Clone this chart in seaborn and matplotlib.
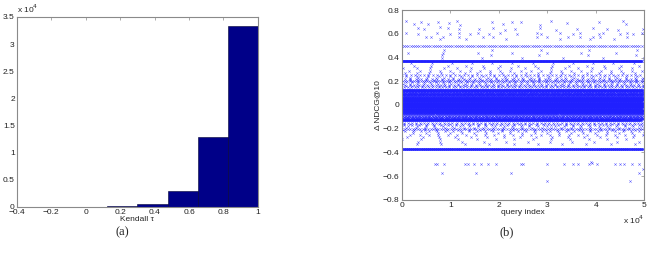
import numpy as np
import pandas as pd
import matplotlib
matplotlib.use("Agg")
import matplotlib.pyplot as plt
import seaborn as sns

# (a) histogram of Kendall tau (8 bins from -0.4 to 1)
bin_edges = [-0.4, -0.225, -0.05, 0.125, 0.3, 0.475, 0.65, 0.825, 1.0]
bin_counts = [0, 0, 30, 120, 550, 3000, 12900, 33300]

# (b) dense bands of delta NDCG@10: level and number of queries on it
band_y = [0.50, 0.37, 0.13, -0.13, -0.37,
          0.12, 0.11, 0.10, 0.09, 0.08, 0.07, 0.06, 0.05, 0.04, 0.03, 0.02, 0.01, 0.0,
          -0.01, -0.02, -0.03, -0.04, -0.05, -0.06, -0.07, -0.08, -0.09, -0.10, -0.11, -0.12,
          0.15, 0.16, 0.17, 0.18, 0.19, 0.20, 0.21, 0.22, 0.23, 0.24, 0.25, 0.27, 0.29, 0.31, 0.33, 0.35,
          -0.15, -0.16, -0.17, -0.18, -0.19, -0.20, -0.21, -0.22, -0.24, -0.25, -0.27, -0.29, -0.31, -0.33,
          0.40, 0.42, 0.44, 0.46]
band_n = [110, 800, 700, 650, 600,
          300, 160, 220, 330, 420, 380, 480, 560, 450, 620, 560, 700, 800,
          700, 560, 620, 450, 500, 380, 330, 240, 170, 150, 200, 260,
          70, 45, 55, 35, 40, 110, 30, 45, 28, 22, 55, 20, 24, 18, 14, 12,
          60, 42, 33, 28, 25, 95, 22, 30, 20, 26, 15, 13, 11, 10,
          6, 5, 7, 5]

# (b) sparse outliers (query index in 1e4, delta NDCG@10)
sparse_x = [0.09, 0.25, 0.40, 0.55, 0.75, 0.78, 0.97, 1.14, 1.20, 1.87, 2.09, 2.28, 2.47, 2.85, 3.07, 3.40, 4.07, 4.57, 4.62,
            0.33, 0.46, 0.95, 1.19, 1.60, 1.88, 2.12, 2.33, 2.85, 3.19, 3.62, 3.95, 4.23, 4.47, 4.98,
            0.09, 0.33, 0.73, 0.99, 1.19, 1.40, 1.57, 1.81, 2.02, 2.37, 2.78, 2.88, 3.26, 3.54, 3.68, 4.06, 4.16, 4.50, 4.64, 4.78, 4.95,
            0.50, 0.60, 0.78, 0.85, 1.19, 1.33, 1.68, 1.88, 2.16, 2.78, 2.99, 3.26, 3.43, 3.68, 3.88, 3.95, 4.09, 4.37, 4.64,
            0.68, 0.73, 0.87, 1.30, 1.37, 1.50, 1.64, 1.78, 1.95, 2.45, 2.50, 2.99, 3.34, 3.54, 3.64, 3.87, 4.02, 4.40, 4.50, 4.59, 4.76, 4.90,
            0.83, 1.53, 2.25, 4.89, 3.90, 3.92, 2.99, 4.70, 4.98]
sparse_y = [0.71, 0.68, 0.70, 0.68, 0.70, 0.66, 0.69, 0.71, 0.67, 0.70, 0.68, 0.70, 0.70, 0.67, 0.71, 0.69, 0.70, 0.71, 0.68,
            0.65, 0.64, 0.65, 0.64, 0.64, 0.65, 0.63, 0.64, 0.65, 0.63, 0.64, 0.65, 0.64, 0.63, 0.64,
            0.61, 0.60, 0.61, 0.60, 0.61, 0.60, 0.61, 0.60, 0.61, 0.60, 0.61, 0.60, 0.61, 0.60, 0.61, 0.60, 0.61, 0.60, 0.61, 0.60, 0.61,
            0.57, 0.57, 0.56, 0.57, 0.57, 0.56, 0.57, 0.57, 0.56, 0.57, 0.57, 0.56, 0.57, 0.57, 0.56, 0.57, 0.57, 0.56, 0.57,
            -0.50, -0.50, -0.50, -0.50, -0.50, -0.50, -0.50, -0.50, -0.50, -0.50, -0.50, -0.50, -0.50, -0.50, -0.50, -0.50, -0.50, -0.50, -0.50, -0.50, -0.50, -0.50,
            -0.57, -0.57, -0.57, -0.57, -0.48, -0.49, -0.64, -0.64, -0.54]

sns.set_style("white")
plt.rcParams['font.family'] = ['Liberation Sans', 'DejaVu Sans']
plt.rcParams['font.size'] = 6

fig = plt.figure(figsize=(6.48, 2.57), dpi=100)
ax1 = fig.add_axes([0.026, 0.195, 0.372, 0.739])
ax2 = fig.add_axes([0.620, 0.222, 0.374, 0.739])

frame = '#8a8a8a'

# --- (a) histogram
centers = [(a + b) / 2 for a, b in zip(bin_edges[:-1], bin_edges[1:])]
sns.histplot(x=centers, weights=bin_counts, bins=bin_edges, ax=ax1,
             color='#000088', edgecolor='#000033', linewidth=0.4, alpha=1)
ax1.set_xlim(-0.4, 1.0)
ax1.set_ylim(0, 35000)
ax1.set_xticks(np.arange(-0.4, 1.01, 0.2))
ax1.set_xticklabels(['\u22120.4', '\u22120.2', '0', '0.2', '0.4', '0.6', '0.8', '1'])
ax1.set_yticks(np.arange(0, 35001, 5000))
ax1.set_yticklabels(['0', '0.5', '1', '1.5', '2', '2.5', '3', '3.5'])
ax1.set_xlabel('Kendall \u03c4', labelpad=0)
ax1.set_ylabel('')
ax1.text(0.0, 1.01, 'x 10$^4$', transform=ax1.transAxes, fontsize=6, va='bottom')

# --- (b) scatter
xs, ys = [], []
for i, (lvl, n) in enumerate(zip(band_y, band_n)):
    step = max(50000 // n, 1)
    idx = np.arange((i * 137) % step, 50000, step)[:n]
    xs.extend(idx)
    ys.extend([lvl] * len(idx))
xs.extend([v * 1e4 for v in sparse_x])
ys.extend(sparse_y)
df = pd.DataFrame({'query': xs, 'delta': ys})
sns.scatterplot(data=df, x='query', y='delta', ax=ax2, marker='x', s=3,
                color='#2020ff', linewidth=0.35, alpha=0.7, legend=False)
ax2.set_xlim(0, 50000)
ax2.set_ylim(-0.8, 0.8)
ax2.set_xticks(np.arange(0, 50001, 10000))
ax2.set_xticklabels(['0', '1', '2', '3', '4', '5'])
ax2.set_yticks(np.arange(-0.8, 0.81, 0.2))
ax2.set_yticklabels(['\u22120.8', '\u22120.6', '\u22120.4', '\u22120.2', '0', '0.2', '0.4', '0.6', '0.8'])
ax2.set_xlabel('query index', labelpad=0)
ax2.set_ylabel('\u0394 NDCG@10', labelpad=1)
ax2.text(1.0, -0.07, 'x 10$^4$', transform=ax2.transAxes, fontsize=6, ha='right', va='top')

for ax in (ax1, ax2):
    ax.tick_params(direction='in', length=2, width=0.5, color=frame, pad=1.5,
                   top=True, right=True, labelsize=6, labelcolor='#222222')
    for sp in ax.spines.values():
        sp.set_color(frame)
        sp.set_linewidth(0.8)

fig.text(0.188, 0.095, '(a)', family=['Liberation Serif', 'DejaVu Serif'], fontsize=9, ha='center', va='center')
fig.text(0.782, 0.095, '(b)', family=['Liberation Serif', 'DejaVu Serif'], fontsize=9, ha='center', va='center')

fig.savefig('out.png', dpi=100)
